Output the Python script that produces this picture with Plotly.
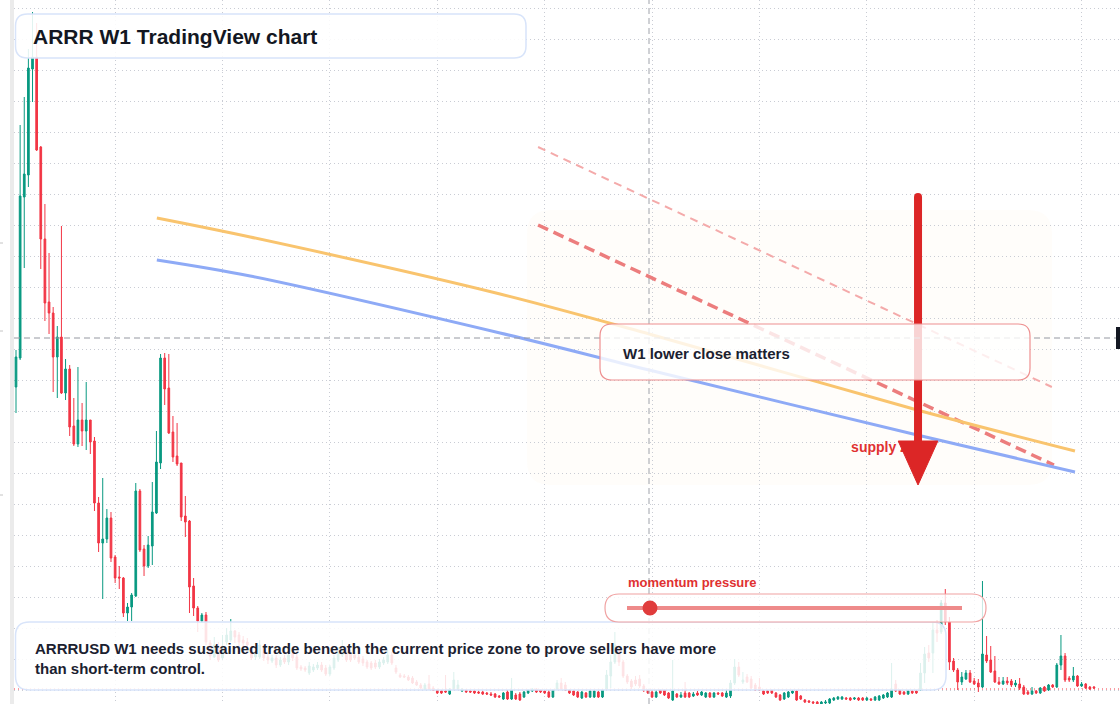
import pandas as pd
import plotly.graph_objects as go

# ---------------- data (weekly ARRRUSD, prices in thousandths of USD) ----------------
start = pd.Timestamp("2021-01-04")

open_k = [
    334, 363, 524, 546, 652, 664, 574, 482, 419, 408,
    364, 384, 328, 352, 295, 277, 301, 290, 301, 280,
    218, 178, 182, 203, 164, 144, 143, 108, 114, 125,
    230, 172, 155, 175, 208, 258, 363, 333, 289, 265,
    258, 205, 200, 135, 113, 100, 106, 78, 64, 73,
    63, 79, 81, 90, 86, 81, 79, 72, 64, 64,
    73, 64, 60, 63, 56, 63, 59, 68, 64, 54,
    53, 48, 51, 53, 56, 53, 47, 53, 61, 66,
    69, 68, 66, 64, 62, 59, 58, 58, 54, 58,
    59, 66, 53, 46, 45, 44, 43, 39, 36, 32,
    37, 33, 31, 30, 30, 27, 32, 32, 30, 31,
    30, 30, 29, 29, 28, 27, 27, 25, 22, 29,
    22, 26, 27, 24, 28, 30, 32, 31, 30, 29,
    24, 32, 38, 36, 31, 30, 29, 23, 28, 24,
    24, 29, 24, 32, 45, 59, 73, 59, 45, 40,
    41, 42, 35, 31, 29, 24, 31, 31, 28, 21,
    27, 24, 28, 28, 25, 28, 26, 24, 28, 24,
    28, 28, 24, 25, 38, 54, 39, 44, 42, 36,
    34, 30, 30, 31, 28, 26, 22, 24, 28, 30,
    25, 21, 20, 19, 19, 17, 18, 18, 21, 22,
    22, 23, 23, 22, 23, 23, 21, 22, 21, 21,
    23, 24, 24, 37, 31, 29, 27, 30, 30, 31,
    48, 68, 68, 91, 89, 118, 99, 60, 51, 39,
    42, 48, 40, 38, 34, 66, 61, 50, 39, 37,
    40, 40, 36, 37, 34, 29, 27, 30, 28, 34,
    31, 36, 34, 56, 65, 43, 41, 45, 35, 37,
    34, 34,
]
high_k = [
    371, 596, 624, 672, 709, 698, 575, 517, 468, 414,
    395, 495, 362, 356, 323, 354, 318, 339, 301, 284,
    224, 243, 212, 209, 166, 155, 144, 118, 128, 238,
    232, 176, 185, 239, 290, 367, 368, 367, 305, 298,
    258, 225, 201, 143, 115, 108, 109, 81, 84, 79,
    86, 93, 102, 91, 89, 85, 83, 75, 71, 81,
    76, 69, 66, 66, 64, 66, 71, 71, 67, 56,
    55, 59, 57, 59, 59, 56, 56, 66, 74, 81,
    73, 71, 69, 67, 65, 61, 60, 61, 62, 64,
    71, 69, 56, 48, 47, 46, 45, 41, 38, 38,
    46, 35, 32, 31, 46, 33, 49, 41, 33, 32,
    31, 31, 30, 30, 29, 29, 28, 26, 29, 31,
    43, 28, 29, 30, 32, 33, 33, 32, 31, 31,
    32, 41, 43, 39, 32, 31, 30, 30, 29, 31,
    31, 30, 32, 51, 66, 89, 76, 61, 47, 42,
    45, 46, 37, 32, 31, 31, 32, 32, 29, 61,
    28, 29, 39, 29, 29, 30, 30, 29, 29, 29,
    29, 29, 31, 41, 62, 59, 49, 47, 45, 38,
    43, 31, 31, 32, 29, 27, 29, 30, 31, 31,
    26, 22, 21, 20, 20, 20, 21, 23, 24, 25,
    25, 24, 24, 24, 24, 24, 24, 23, 25, 26,
    27, 29, 58, 41, 32, 30, 31, 31, 31, 58,
    74, 76, 99, 101, 121, 132, 104, 63, 53, 49,
    51, 51, 43, 42, 140, 85, 75, 65, 44, 44,
    44, 42, 41, 43, 36, 31, 34, 31, 34, 35,
    37, 37, 58, 86, 68, 45, 54, 46, 39, 38,
    35, 35,
]
low_k = [
    308, 361, 453, 534, 619, 570, 452, 400, 387, 329,
    323, 327, 321, 285, 275, 274, 275, 271, 267, 210,
    169, 122, 178, 159, 138, 132, 104, 100, 100, 124,
    169, 145, 153, 156, 207, 252, 316, 287, 259, 255,
    200, 184, 108, 105, 89, 98, 76, 61, 63, 59,
    61, 76, 79, 78, 74, 75, 74, 61, 61, 62,
    60, 57, 58, 53, 54, 57, 56, 60, 51, 50,
    49, 46, 49, 51, 49, 45, 45, 51, 59, 64,
    59, 59, 61, 57, 55, 52, 51, 52, 52, 56,
    57, 56, 47, 43, 43, 40, 37, 35, 32, 31,
    31, 30, 27, 27, 28, 26, 31, 31, 29, 28,
    28, 27, 27, 26, 26, 25, 23, 23, 21, 21,
    21, 21, 20, 23, 27, 29, 28, 28, 27, 23,
    23, 31, 31, 30, 27, 25, 23, 22, 23, 23,
    23, 23, 23, 31, 33, 57, 55, 43, 37, 32,
    35, 33, 29, 27, 23, 23, 27, 25, 22, 20,
    23, 23, 23, 23, 24, 25, 25, 23, 23, 23,
    26, 24, 23, 23, 36, 44, 37, 38, 32, 30,
    30, 26, 27, 27, 23, 20, 21, 23, 27, 20,
    21, 18, 18, 17, 16, 16, 17, 17, 20, 21,
    21, 21, 20, 21, 20, 20, 20, 20, 20, 20,
    22, 23, 23, 29, 26, 26, 26, 27, 27, 30,
    38, 59, 48, 79, 87, 96, 51, 49, 31, 36,
    41, 38, 36, 29, 33, 58, 48, 38, 36, 36,
    36, 34, 34, 31, 26, 26, 26, 27, 27, 29,
    30, 33, 33, 51, 39, 39, 39, 34, 34, 32,
    31, 32,
]
close_k = [
    364, 525, 547, 653, 664, 571, 482, 418, 408, 364,
    384, 328, 352, 294, 277, 301, 290, 301, 279, 218,
    178, 182, 203, 163, 143, 143, 108, 114, 126, 230,
    171, 155, 176, 209, 259, 363, 332, 288, 264, 257,
    204, 199, 134, 113, 100, 106, 79, 65, 76, 61,
    74, 86, 90, 84, 79, 78, 76, 63, 67, 76,
    63, 61, 63, 56, 61, 59, 66, 63, 53, 52,
    51, 55, 54, 56, 51, 47, 54, 63, 68, 68,
    61, 61, 63, 59, 58, 54, 53, 54, 59, 61,
    66, 58, 49, 44, 44, 41, 38, 36, 33, 36,
    32, 31, 28, 28, 29, 32, 41, 36, 32, 29,
    29, 28, 28, 27, 27, 26, 24, 24, 28, 22,
    31, 22, 21, 29, 31, 32, 29, 29, 28, 24,
    31, 38, 32, 31, 28, 26, 24, 29, 24, 30,
    30, 24, 31, 46, 59, 76, 59, 45, 39, 34,
    37, 35, 31, 28, 24, 29, 28, 26, 23, 30,
    24, 26, 24, 24, 27, 26, 29, 28, 24, 28,
    27, 25, 28, 38, 54, 46, 41, 39, 33, 31,
    31, 27, 28, 28, 24, 21, 28, 29, 30, 21,
    22, 19, 19, 18, 17, 19, 19, 22, 23, 24,
    24, 22, 21, 23, 21, 21, 23, 21, 24, 25,
    26, 28, 32, 30, 27, 27, 30, 28, 28, 48,
    67, 63, 91, 88, 118, 99, 59, 51, 39, 44,
    48, 39, 37, 34, 67, 60, 49, 39, 37, 40,
    38, 36, 38, 33, 27, 27, 30, 28, 33, 30,
    36, 34, 56, 65, 41, 41, 45, 35, 37, 33,
    32, 33,
]

# drawn overlay curves (week index, price in thousandths)
ema_fast_w = [34.1, 56.7, 117.2, 153.3, 218.2, 256.4]
ema_fast_k = [503, 484, 427, 387, 311, 270]
ema_slow_w = [34.1, 56.7, 117.2, 153.3, 218.2, 256.4]
ema_slow_k = [461, 445, 388, 351, 286, 249]
trend_light_w = [126.4, 250.8]
trend_light_k = [574, 334]
trend_bold_w = [126.4, 251.3]
trend_bold_k = [496, 256]
arrow_w = 218.4
arrow_top_k = 524
arrow_base_k = 276
arrow_head_half_w = 4.8
arrow_head_base_k = 280
arrow_tip_k = 236
label_w = 202.2
label_k = 273
last_price_k = 32

title_text = "ARRR W1 TradingView chart"
note_text = ("ARRRUSD W1 needs sustained trade beneath the current price zone to prove sellers have more"
             "<br>than short-term control.")
box_text = "W1 lower close matters"
zone_text = "supply zone"
meter_text = "momentum pressure"

# ---------------- conversions ----------------
opens = [v / 1000 for v in open_k]
highs = [v / 1000 for v in high_k]
lows = [v / 1000 for v in low_k]
closes = [v / 1000 for v in close_k]
N = len(opens)
dates = pd.date_range(start, periods=N, freq="7D")


def wk(w):
    return start + pd.to_timedelta(w * 7, unit="D")


W, H = 1120, 704
ML = 14
FONT = "Liberation Sans, Arial, sans-serif"


def px(x):
    return (x - ML) / (W - ML)


def py(y):
    return 1 - y / H


def rrect(x0, y0, x1, y1, r):
    pts = []

    def P(x, y):
        return f"{px(x):.5f},{py(y):.5f}"
    pts.append("M" + P(x0 + r, y0))
    pts.append("L" + P(x1 - r, y0))
    pts.append("Q" + P(x1, y0) + " " + P(x1, y0 + r))
    pts.append("L" + P(x1, y1 - r))
    pts.append("Q" + P(x1, y1) + " " + P(x1 - r, y1))
    pts.append("L" + P(x0 + r, y1))
    pts.append("Q" + P(x0, y1) + " " + P(x0, y1 - r))
    pts.append("L" + P(x0, y0 + r))
    pts.append("Q" + P(x0, y0) + " " + P(x0 + r, y0))
    pts.append("Z")
    return " ".join(pts)


fig = go.Figure()

fig.add_trace(go.Candlestick(
    x=dates, open=opens, high=highs, low=lows, close=closes,
    increasing=dict(line=dict(color="#089981", width=1), fillcolor="#089981"),
    decreasing=dict(line=dict(color="#f23645", width=1), fillcolor="#f23645"),
    whiskerwidth=0, showlegend=False, hoverinfo="skip",
))

fig.add_trace(go.Scatter(
    x=[wk(w) for w in trend_light_w], y=[v / 1000 for v in trend_light_k], mode="lines",
    line=dict(color="#f4aaaa", width=2, dash="8px,6px"), showlegend=False, hoverinfo="skip"))
fig.add_trace(go.Scatter(
    x=[wk(w) for w in trend_bold_w], y=[v / 1000 for v in trend_bold_k], mode="lines",
    line=dict(color="#ec7d7d", width=3.5, dash="11px,6px"), showlegend=False, hoverinfo="skip"))
fig.add_trace(go.Scatter(
    x=[wk(w) for w in ema_fast_w], y=[v / 1000 for v in ema_fast_k], mode="lines",
    line=dict(color="#f9c46e", width=3, shape="spline", smoothing=0.9), showlegend=False, hoverinfo="skip"))
fig.add_trace(go.Scatter(
    x=[wk(w) for w in ema_slow_w], y=[v / 1000 for v in ema_slow_k], mode="lines",
    line=dict(color="#8eaaf6", width=3, shape="spline", smoothing=0.9), showlegend=False, hoverinfo="skip"))

# arrow shaft (with rounded top cap)
fig.add_trace(go.Scatter(
    x=[wk(arrow_w), wk(arrow_w)], y=[arrow_top_k / 1000, arrow_base_k / 1000], mode="lines",
    line=dict(color="#dc2626", width=8), showlegend=False, hoverinfo="skip"))
fig.add_trace(go.Scatter(
    x=[wk(arrow_w)], y=[arrow_top_k / 1000], mode="markers",
    marker=dict(color="#dc2626", size=8, line=dict(width=0)), showlegend=False, hoverinfo="skip"))
# label under arrow head
fig.add_trace(go.Scatter(
    x=[wk(label_w)], y=[label_k / 1000], mode="text", text=[f"<b>{zone_text}</b>"],
    textposition="middle right",
    textfont=dict(family=FONT, size=14, color="#e03131"), showlegend=False, hoverinfo="skip"))
# arrow head
fig.add_trace(go.Scatter(
    x=[wk(arrow_w - arrow_head_half_w), wk(arrow_w + arrow_head_half_w), wk(arrow_w),
       wk(arrow_w - arrow_head_half_w)],
    y=[arrow_head_base_k / 1000, arrow_head_base_k / 1000, arrow_tip_k / 1000, arrow_head_base_k / 1000],
    mode="lines", fill="toself", fillcolor="#dc2626", line=dict(color="#dc2626", width=1),
    showlegend=False, hoverinfo="skip"))

shapes = []
# faint supply area
shapes.append(dict(type="path", xref="paper", yref="paper", path=rrect(527, 210, 1052, 485, 24),
                   fillcolor="rgba(255,232,205,0.09)", line=dict(width=0), layer="below"))
# crosshair
shapes.append(dict(type="line", xref="paper", yref="paper", x0=px(649), x1=px(649), y0=0, y1=1,
                   line=dict(color="#9fa2aa", width=1, dash="6px,4px"), layer="above"))
shapes.append(dict(type="line", xref="paper", yref="paper", x0=0, x1=px(1116), y0=py(338), y1=py(338),
                   line=dict(color="#9598a1", width=1, dash="6px,4px"), layer="above"))
# last price line
shapes.append(dict(type="line", xref="paper", yref="y", x0=0, x1=1, y0=last_price_k / 1000,
                   y1=last_price_k / 1000, line=dict(color="#f23645", width=1, dash="1px,3px"),
                   layer="above"))
# boxes
shapes.append(dict(type="path", xref="paper", yref="paper", path=rrect(15.5, 14, 526, 58, 12),
                   fillcolor="rgba(255,255,255,0.88)", line=dict(color="#d8e4fa", width=1.5),
                   layer="above"))
shapes.append(dict(type="path", xref="paper", yref="paper", path=rrect(15.5, 622, 946, 690, 14),
                   fillcolor="rgba(255,255,255,0.86)", line=dict(color="#d8e4fa", width=1.5),
                   layer="above"))
shapes.append(dict(type="path", xref="paper", yref="paper", path=rrect(600, 324, 1030, 380, 12),
                   fillcolor="rgba(255,255,255,0.8)", line=dict(color="#ee9090", width=1.2),
                   layer="above"))
shapes.append(dict(type="path", xref="paper", yref="paper", path=rrect(605, 594, 986, 622, 14),
                   fillcolor="rgba(255,255,255,0.78)", line=dict(color="#f0a2a2", width=1.2),
                   layer="above"))
shapes.append(dict(type="line", xref="paper", yref="paper", x0=px(627), x1=px(962), y0=py(608), y1=py(608),
                   line=dict(color="#ee8a8a", width=4), layer="above"))
shapes.append(dict(type="circle", xref="paper", yref="paper", x0=px(642.5), x1=px(657.5),
                   y0=py(615.5), y1=py(600.5), fillcolor="#e03c3c", line=dict(width=0), layer="above"))
# right price-axis label stub
shapes.append(dict(type="rect", xref="paper", yref="paper", x0=px(1116), x1=1.0, y0=py(349), y1=py(327),
                   fillcolor="#131722", line=dict(width=0), layer="above"))
# left toolbar edge
shapes.append(dict(type="rect", xref="paper", yref="paper", x0=px(0), x1=px(10), y0=0, y1=1,
                   fillcolor="#ffffff", line=dict(width=0), layer="above"))
shapes.append(dict(type="rect", xref="paper", yref="paper", x0=px(10), x1=px(14), y0=0, y1=1,
                   fillcolor="#ebebeb", line=dict(width=0), layer="above"))
for ty in (243, 331, 495):
    shapes.append(dict(type="line", xref="paper", yref="paper", x0=px(0), x1=px(3), y0=py(ty), y1=py(ty),
                       line=dict(color="#c4c4c4", width=1), layer="above"))

annotations = [
    dict(xref="paper", yref="paper", x=px(31), y=py(36), xanchor="left", yanchor="middle",
         text=f"<b>{title_text}</b>", showarrow=False,
         font=dict(family=FONT, size=21, color="#131722")),
    dict(xref="paper", yref="paper", x=px(33), y=py(658), xanchor="left", yanchor="middle", align="left",
         text=f"<b>{note_text}</b>", showarrow=False,
         font=dict(family=FONT, size=15, color="#1b2130")),
    dict(xref="paper", yref="paper", x=px(621), y=py(353), xanchor="left", yanchor="middle",
         text=f"<b>{box_text}</b>", showarrow=False,
         font=dict(family=FONT, size=15, color="#1b2130")),
    dict(xref="paper", yref="paper", x=px(626), y=py(582), xanchor="left", yanchor="middle",
         text=f"<b>{meter_text}</b>", showarrow=False,
         font=dict(family=FONT, size=13, color="#e03131")),
]

x_lo = wk(-0.484)
x_hi = wk(267.3)

fig.update_layout(
    width=W, height=H,
    margin=dict(l=ML, r=0, t=0, b=0),
    paper_bgcolor="#ffffff", plot_bgcolor="#ffffff",
    boxgap=0.42,
    shapes=shapes, annotations=annotations,
    showlegend=False,
    xaxis=dict(type="date", range=[x_lo, x_hi], rangeslider=dict(visible=False),
               tickmode="array", tickvals=list(dates[24::26]), showticklabels=False, ticks="",
               showgrid=True, gridcolor="#c9ccd4", griddash="1px,3px", gridwidth=1,
               zeroline=False, showline=False),
    yaxis=dict(range=[0.017, 0.721], tick0=0, dtick=0.031, showticklabels=False, ticks="",
               showgrid=True, gridcolor="#c9ccd4", griddash="1px,3px", gridwidth=1,
               zeroline=False, showline=False),
)

fig.write_html("out.html")
